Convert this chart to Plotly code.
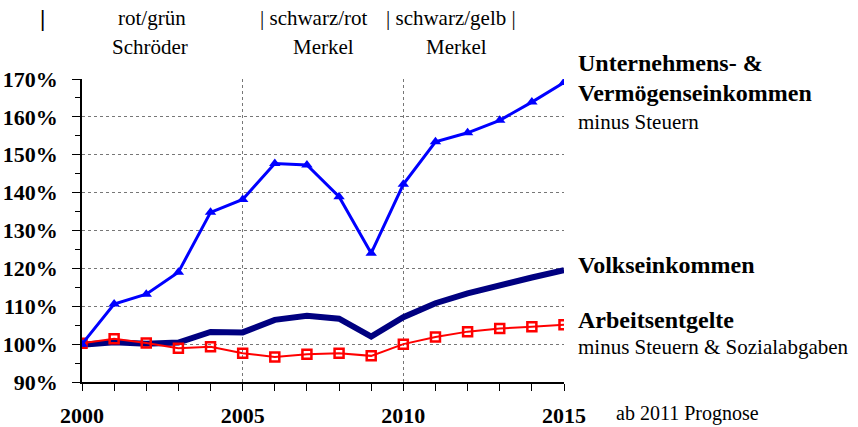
import plotly.graph_objects as go

years = list(range(2000, 2016))
unternehmen = [100.0, 110.6, 113.2, 119.0, 134.8, 138.2, 147.7, 147.3, 138.9, 124.0,
               142.2, 153.4, 155.8, 159.1, 163.9, 169.1]
volkseinkommen = [99.8, 100.5, 100.1, 100.4, 103.2, 103.1, 106.4, 107.5, 106.7, 102.0,
                  107.1, 110.8, 113.4, 115.6, 117.6, 119.5]
arbeit = [100.2, 101.4, 100.3, 98.9, 99.3, 97.6, 96.6, 97.3, 97.6, 96.9,
          100.0, 101.9, 103.3, 104.1, 104.6, 105.1]

y_ticks = [90, 100, 110, 120, 130, 140, 150, 160, 170]
y_labels = [f"{v}%" for v in y_ticks]
x_ticks = [2000, 2005, 2010, 2015]
x_labels = ["2000", "2005", "2010", "2015"]

W, H = 858, 427
L, R, T, B = 82, 564, 79, 382

def px(x):
    return (x - L) / (R - L)

def py(y):
    return (B - y) / (B - T)

SERIF = "Liberation Serif"

fig = go.Figure()
fig.add_trace(go.Scatter(x=years, y=volkseinkommen, mode="lines",
                         line=dict(color="#000080", width=6), showlegend=False))
fig.add_trace(go.Scatter(x=years, y=arbeit, mode="lines+markers",
                         line=dict(color="#FF0000", width=2),
                         marker=dict(symbol="square-open", size=9, color="#FF0000",
                                     line=dict(width=2.5, color="#FF0000")),
                         showlegend=False))
fig.add_trace(go.Scatter(x=years, y=unternehmen, mode="lines+markers",
                         line=dict(color="#0000FF", width=3),
                         marker=dict(symbol="triangle-up", size=10, color="#0000FF"),
                         showlegend=False))

annos = [
    ("<b>|</b>", 42, 18, 24, "center"),
    ("rot/grün", 152, 18, 21, "center"),
    ("| schwarz/rot", 314, 18, 21, "center"),
    ("| schwarz/gelb |", 451, 18, 21, "center"),
    ("Schröder", 150, 47, 21, "center"),
    ("Merkel", 323, 47, 21, "center"),
    ("Merkel", 456, 47, 21, "center"),
    ("<b>Unternehmens- &</b>", 577, 63, 24, "left"),
    ("<b>Vermögenseinkommen</b>", 577, 93, 24, "left"),
    ("minus Steuern", 577, 122, 21, "left"),
    ("<b>Volkseinkommen</b>", 577, 265, 24, "left"),
    ("<b>Arbeitsentgelte</b>", 577, 320, 24, "left"),
    ("minus Steuern & Sozialabgaben", 577, 347, 21, "left"),
    ("ab 2011 Prognose", 615, 413, 20, "left"),
]
for text, x, y, size, anchor in annos:
    fig.add_annotation(text=text,
                       xref="paper", yref="paper", x=px(x), y=py(y),
                       xanchor=anchor, yanchor="middle", showarrow=False,
                       borderpad=0,
                       font=dict(family=SERIF, size=size, color="black"))

fig.update_layout(
    width=W, height=H,
    margin=dict(l=L, r=W - R, t=T, b=H - B, pad=0, autoexpand=False),
    plot_bgcolor="white", paper_bgcolor="white",
    font=dict(family=SERIF, color="black"),
    xaxis=dict(range=[2000, 2015], tickmode="array", tickvals=x_ticks,
               ticktext=[f"<b>{t}</b>" for t in x_labels],
               tickfont=dict(size=22, family=SERIF),
               ticks="outside", ticklen=7, tickcolor="black", tickwidth=1,
               ticklabelstandoff=6, automargin=False,
               showline=True, linecolor="black", linewidth=1.5,
               showgrid=True, gridcolor="#777", griddash="dot", gridwidth=1,
               minor=dict(dtick=1, tick0=2000, ticks="outside", ticklen=7,
                          tickcolor="black", showgrid=False),
               zeroline=False, fixedrange=True),
    yaxis=dict(range=[90, 170], tickmode="array", tickvals=y_ticks,
               ticktext=[f"<b>{t}</b>" for t in y_labels],
               tickfont=dict(size=22, family=SERIF),
               ticks="outside", ticklen=8, tickcolor="black", tickwidth=1,
               ticklabelstandoff=10, automargin=False,
               showline=True, linecolor="black", linewidth=1.5,
               showgrid=True, gridcolor="#777", griddash="dot", gridwidth=1,
               minor=dict(dtick=5, tick0=90, ticks="outside", ticklen=5,
                          tickcolor="black", showgrid=False),
               zeroline=False, fixedrange=True),
)

fig.write_html("out.html", config={"displayModeBar": False},
               post_script="document.body.style.margin='0';document.body.style.overflow='hidden';")
